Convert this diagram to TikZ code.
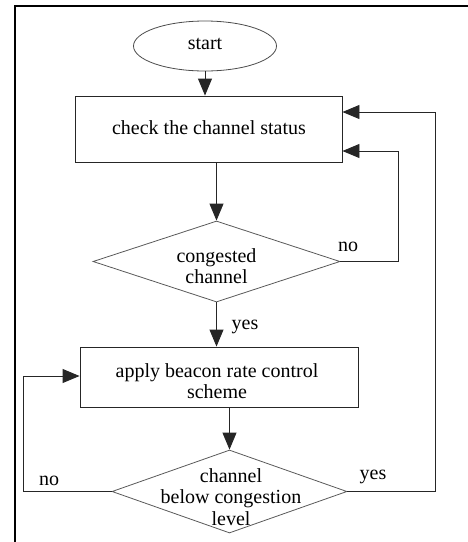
\documentclass[tikz,border=0pt]{standalone}
\usepackage{fontspec}
\setmainfont{Liberation Serif}
\usetikzlibrary{shapes.geometric,arrows.meta}
\begin{document}
\begin{tikzpicture}[x=1pt,y=-1pt,
  font=\fontsize{20}{21.3}\selectfont,
  procbox/.style={draw=black!85,line width=0.9pt,rectangle,inner sep=0pt},
  termbox/.style={draw=black!70,line width=0.8pt,ellipse,inner sep=0pt,minimum width=143pt,minimum height=50pt},
  decbox/.style={draw=black!65,line width=0.8pt,diamond,inner sep=0pt},
  txt/.style={inner sep=0pt,align=center},
  lbl/.style={inner sep=0pt},
  arr/.style={draw=black!85,line width=0.9pt,-{Triangle[length=17pt,width=14pt]}},
  ln/.style={draw=black!85,line width=0.9pt}]
\useasboundingbox (0,0) rectangle (468,542);
\draw[line width=2pt] (15,542) -- (15,6) -- (468,6);

\node[termbox] (start) at (205,46) {};
\node[txt] (starttxt) at (205,44) {start};

\node[procbox,minimum width=267pt,minimum height=66pt] (box1) at (208.5,129) {};
\node[txt] (box1txt) at (209,128) {check the channel status};

\node[decbox,minimum width=247pt,minimum height=81pt] (d1) at (216.5,261.5) {};
\node[txt] (d1txt) at (216.5,266) {congested\\channel};

\node[procbox,minimum width=278pt,minimum height=60pt] (box2) at (219,377) {};
\node[txt] (box2txt) at (217,381) {apply beacon rate control\\scheme};

\node[decbox,minimum width=235pt,minimum height=83pt] (d2) at (229.5,491.5) {};
\node[txt] (d2txt) at (231,497) {channel\\below congestion\\level};

\node[lbl] (no1) at (348,247) {no};
\node[lbl] (yes1) at (245,327) {yes};
\node[lbl] (no2) at (49,481) {no};
\node[lbl] (yes2) at (373,477) {yes};

\coordinate (loop1) at (398,151);
\coordinate (loop2) at (435,112);
\coordinate (loop3) at (23,376);

\draw[arr] (start.south) -- (start.south |- box1.north);
\draw[arr] (d1.north |- box1.south) -- (d1.north);
\draw[arr] (d1.south) -- (d1.south |- box2.north);
\draw[arr] (d2.north |- box2.south) -- (d2.north);
\draw[arr] (d1.east) -| (loop1) -- (loop1 -| box1.east);
\draw[arr] (d2.east) -| (loop2) -- (loop2 -| box1.east);
\draw[arr] (d2.west) -| (loop3) -- (loop3 -| box2.west);
\end{tikzpicture}
\end{document}
